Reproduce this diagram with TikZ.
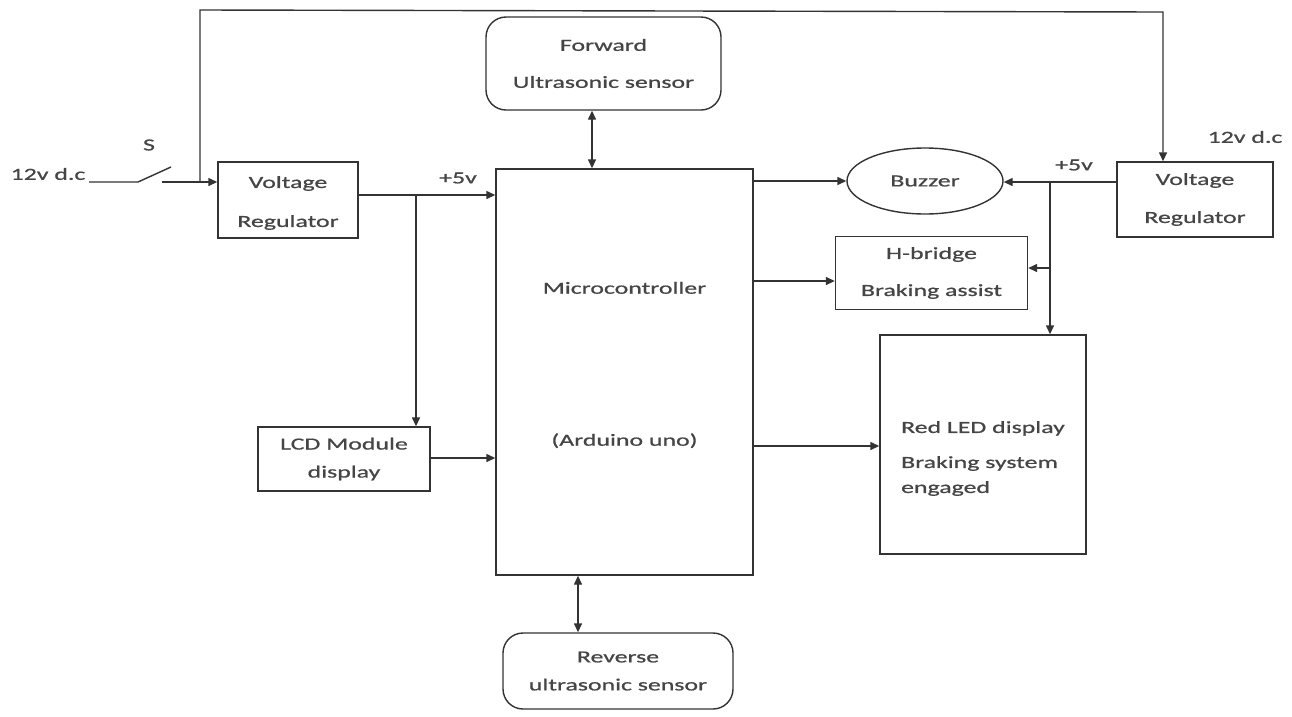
\documentclass[tikz,border=0pt]{standalone}
\usepackage{fontspec}
\setmainfont{Carlito}[FakeStretch=1.52,FakeBold=0.8]
\usetikzlibrary{arrows.meta,shapes.geometric}
\definecolor{ink}{HTML}{333333}
\definecolor{txt}{HTML}{454545}
\tikzset{
  every node/.style={font=\fontsize{17}{20}\selectfont, text=txt},
  every label/.style={font=\fontsize{17}{20}\selectfont, text=txt, inner sep=0pt},
  blk/.style={draw=ink, line width=1.4pt, inner sep=0pt, align=center},
  rnd/.style={blk, rounded corners=20pt},
  wire/.style={draw=ink, line width=1.4pt},
  arr/.style={wire, -{Triangle[length=9pt,width=8pt]}},
  darr/.style={wire, {Triangle[length=9pt,width=8pt]}-{Triangle[length=9pt,width=8pt]}},
  lbl/.style={inner sep=0pt}
}
\begin{document}
\begin{tikzpicture}[x=1pt,y=-1pt]
\useasboundingbox (0,0) rectangle (1292,716);
% blocks
\node[blk, minimum width=140pt, minimum height=76pt,
  label={[align=center, yshift=-3pt]center:Voltage\\[19pt]Regulator}] (vrl) at (288,200) {};
\node[blk, minimum width=257pt, minimum height=406pt,
  label={[align=center, yshift=7pt]center:Microcontroller\\[132pt](Arduino uno)}] (mcu) at (624.5,372) {};
\node[rnd, minimum width=235pt, minimum height=93pt] (fwd) at (603.5,63.5) {Forward\\[17pt]Ultrasonic sensor};
\node[rnd, minimum width=230pt, minimum height=76pt] (rev) at (618,671) {Reverse\\[8pt]ultrasonic sensor};
\node[blk, minimum width=172pt, minimum height=64pt] (lcd) at (344,459) {LCD Module\\[8pt]display};
\node[blk, ellipse, minimum width=156pt, minimum height=66pt] (buz) at (925,181) {Buzzer};
\node[blk, minimum width=156pt, minimum height=75pt] (vrr) at (1195,199.5) {Voltage\\[18pt]Regulator};
\node[blk, minimum width=192pt, minimum height=73pt] (hb) at (931.5,273) {H-bridge\\[17pt]Braking assist};
\node[blk, minimum width=206pt, minimum height=219pt,
  label={[align=left, yshift=-14pt]center:Red LED display\\[15pt]Braking system\\[5pt]engaged}] (led) at (983,444.5) {};
% labels
\node[lbl] (l12a) at (48,174) {12v d.c};
\node[lbl] (ls) at (149,145) {S};
\node[lbl] (l12b) at (1245,137) {12v d.c};
\node[lbl] (l5a) at (458,178) {+5v};
\node[lbl] (l5b) at (1074,165) {+5v};
% switch and supply
\coordinate (sw0) at (89,182);
\coordinate (sw1) at (138,182);
\coordinate (sw2) at (171,167);
\coordinate (sw3) at (162,182);
\coordinate (jt) at (200,182);
\coordinate (tl) at (200,10);
\coordinate (tr) at (1163,12);
\draw[wire] (sw0) -- (sw1) -- (sw2);
\draw[arr] (sw3) -- (vrl.west |- sw3);
\draw[arr] (jt) -- (tl) -- (tr) -- (tr |- vrr.north);
% left +5v
\coordinate (jl) at (416,195);
\draw[arr] (vrl.east |- jl) -- (mcu.west |- jl);
\draw[arr] (jl) -- (jl |- lcd.north);
\draw[arr] (lcd.east |- 0,458) -- (mcu.west |- 0,458);
% sensors
\draw[darr] (592,0 |- fwd.south) -- (592,0 |- mcu.north);
\draw[darr] (578,0 |- mcu.south) -- (578,0 |- rev.north);
% outputs
\draw[arr] (mcu.east |- buz.west) -- (buz.west);
\draw[arr] (mcu.east |- 0,281) -- (hb.west |- 0,281);
\draw[arr] (mcu.east |- 0,446) -- (led.west |- 0,446);
% right +5v
\coordinate (jr) at (1050,182);
\coordinate (jh) at (1050,268);
\draw[arr] (vrr.west |- jr) -- (buz.east |- jr);
\draw[arr] (jr) -- (jr |- led.north);
\draw[arr] (jh) -- (hb.east |- jh);
\end{tikzpicture}
\end{document}
